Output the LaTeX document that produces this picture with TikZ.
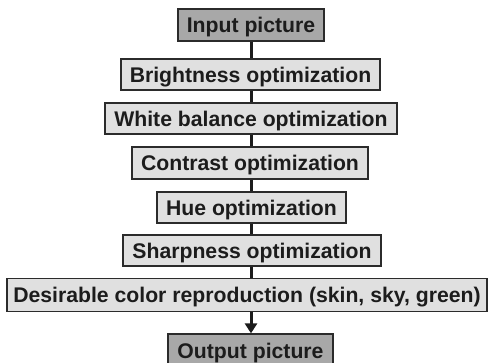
\documentclass[tikz,border=0pt]{standalone}
\usepackage{fontspec}
\setmainfont{Liberation Sans}
\usetikzlibrary{arrows.meta}
\definecolor{boxlight}{HTML}{E0E0E0}
\definecolor{boxdark}{HTML}{A8A8A8}
\definecolor{edge}{HTML}{2B2B2B}
\definecolor{ink}{HTML}{1C1C1C}
\begin{document}
\begin{tikzpicture}[x=1pt,y=-1pt,
  stage/.style={draw=edge,line width=1.2pt,fill=boxlight,text=ink,
    font=\fontsize{21.2}{24}\selectfont\bfseries,inner sep=0pt,anchor=center,
    text height=16pt,text depth=0pt},
  terminal/.style={stage,fill=boxdark},
  link/.style={draw=ink,line width=3pt},
  flow/.style={link,-{Triangle[length=10pt,width=12pt]}}]
\useasboundingbox (0,0) rectangle (491,363);
\begin{scope}
\clip (0,0) rectangle (491,363);
\node[terminal,minimum width=146pt,minimum height=32pt] (in) at (251,25) {Input picture};
\node[stage,minimum width=259pt,minimum height=31pt] (br) at (250.5,74.5) {Brightness optimization};
\node[stage,minimum width=292pt,minimum height=31pt] (wb) at (251,118.5) {White balance optimization};
\node[stage,minimum width=236pt,minimum height=32pt] (ct) at (250,163) {Contrast optimization};
\node[stage,minimum width=189pt,minimum height=31pt] (hu) at (251.5,207.5) {Hue optimization};
\node[stage,minimum width=258pt,minimum height=31pt] (sh) at (252,250.5) {Sharpness optimization};
\node[stage,minimum width=480pt,minimum height=33pt] (dc) at (247,295) {Desirable color reproduction (skin, sky, green)};
\node[terminal,minimum width=165pt,minimum height=34pt] (out) at (250.5,351) {Output picture};
\end{scope}
\draw[link] (in.south -| 251,0) -- (br.north -| 251,0);
\draw[link] (br.south -| 251,0) -- (wb.north -| 251,0);
\draw[link] (wb.south -| 251,0) -- (ct.north -| 251,0);
\draw[link] (ct.south -| 251,0) -- (hu.north -| 251,0);
\draw[link] (hu.south -| 251,0) -- (sh.north -| 251,0);
\draw[link] (sh.south -| 251,0) -- (dc.north -| 251,0);
\draw[flow] (dc.south -| 251,0) -- (out.north -| 251,0);
\end{tikzpicture}
\end{document}
